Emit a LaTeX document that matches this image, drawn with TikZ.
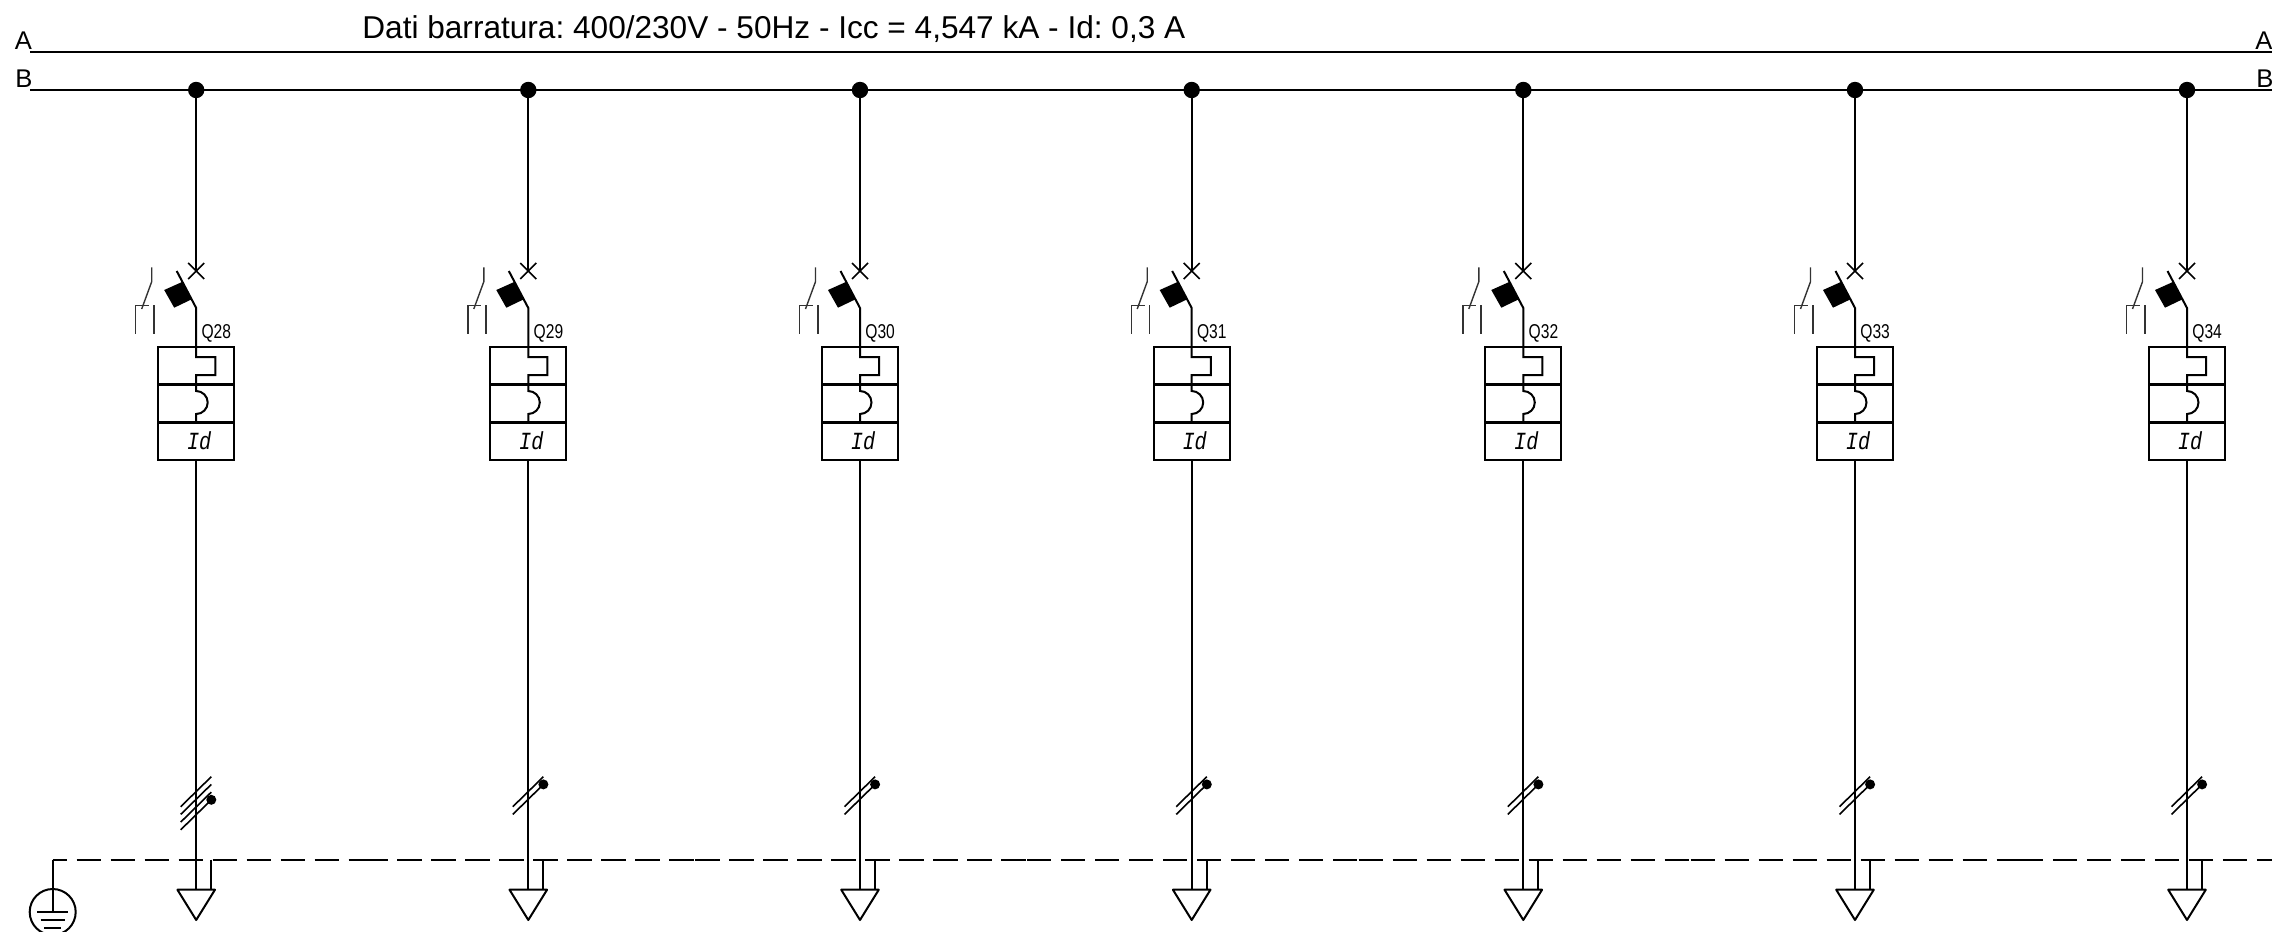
\documentclass[tikz,border=0pt]{standalone}
\usepackage{fontspec}
\setmainfont{Liberation Sans}
\setmonofont{Liberation Mono}
\usetikzlibrary{calc}
\frenchspacing
\tikzset{
  wire/.style={line width=1pt,draw=black},
  thinwire/.style={line width=0.8pt,draw=black},
  auxwire/.style={line width=0.7pt,draw=black!80},
  divider/.style={line width=1.5pt,draw=black},
  dashwire/.style={line width=1pt,draw=black,dash pattern=on 12.15pt off 4.85pt},
  junction/.style={circle,fill=black,draw=none,minimum size=8.2pt,inner sep=0pt,outer sep=0pt},
  tickdot/.style={circle,fill=black,draw=none,minimum size=5pt,inner sep=0pt,outer sep=0pt},
  cell/.style={rectangle,draw=black,line width=1pt,minimum width=37.85pt,inner sep=0pt,outer sep=0pt},
  buslabel/.style={anchor=base west,inner sep=0pt,font=\fontsize{12.8pt}{14pt}\selectfont},
  qlabel/.style={anchor=base west,inner sep=0pt,font=\fontsize{10pt}{12pt}\selectfont},
}
\begin{document}
\begin{tikzpicture}[x=0.5pt,y=-0.5pt]
\path[use as bounding box,clip] (0,0) rectangle (2272,932);
\fill[white] (0,0) rectangle (2272,932);
% title and bus bars
\node[anchor=base west,inner sep=0pt,font=\fontsize{15.8pt}{18pt}\selectfont] (title) at (362,38.3) {Dati barratura: 400/230V - 50Hz - Icc = 4,547 kA - Id: 0,3 A};
\node[buslabel] (labAl) at (14.5,49) {A};
\node[buslabel] (labBl) at (15,87.3) {B};
\node[buslabel] (labAr) at (2255,49) {A};
\node[buslabel] (labBr) at (2256,87.3) {B};
\coordinate (Al) at (30,52.3);
\coordinate (Ar) at (2272,52.3);
\coordinate (Bl) at (30,90);
\coordinate (Br) at (2272,90);
\draw[wire] (Al) -- (Ar);
\draw[wire] (Bl) -- (Br);
% earth symbol
\node[circle,draw=black,line width=1pt,minimum size=23pt,inner sep=0pt,outer sep=0pt] (gnd) at (52.7,912) {};
\coordinate (corner) at (52.7,859.7);
\draw[wire] (gnd.center) -- (corner);
\draw[thinwire] (37.3,912) -- (68.3,912);
\draw[thinwire] (40.7,920) -- (65,920);
\draw[thinwire] (44.3,927.7) -- (61,927.7);
% dashed protective conductor
\coordinate (s0) at (363.3,859.7);
\coordinate (s1) at (695.3,859.7);
\coordinate (s2) at (1027,859.7);
\coordinate (s3) at (1358.7,859.7);
\coordinate (s4) at (1690.7,859.7);
\coordinate (s5) at (2018.8,859.7);
\coordinate (s6) at (2272,859.7);
\draw[dashwire,dash phase=5pt] (corner) -- (s0);
\draw[dashwire] (s0) -- (s1);
\draw[dashwire] (s1) -- (s2);
\draw[dashwire] (s2) -- (s3);
\draw[dashwire] (s3) -- (s4);
\draw[dashwire] (s4) -- (s5);
\draw[dashwire] (s5) -- (s6);
% feeders
\foreach \i/\x/\q/\n in {0/196.2/28/4,1/528.3/29/2,2/860/30/2,3/1191.7/31/2,4/1523.3/32/2,5/1855/33/2,6/2187/34/2}{
\begin{scope}[xshift=\x*0.5pt]
  \node[junction] (j\i) at (0,90) {};
  \coordinate (cross\i) at (0,271);
  \coordinate (pivot\i) at (0,308);
  \coordinate (bladeend\i) at (-19.5,271);
  \node[cell,minimum height=18.8pt] (mag\i) at (0,365.5) {};
  \node[cell,minimum height=19pt] (th\i) at (0,403.3) {};
  \node[cell,minimum height=18.85pt,font=\ttfamily\itshape\fontsize{11pt}{11pt}\selectfont] (rcd\i) at (0,441.2) {\hspace*{3pt}\scalebox{0.92}[1.12]{Id}};
  \draw[divider] (mag\i.south west) -- (mag\i.south east);
  \draw[divider] (th\i.south west) -- (th\i.south east);
  \node[qlabel] (q\i) at (5,338) {\scalebox{0.78}[1]{Q\q}};
  \draw[wire] (j\i) -- (cross\i);
  \draw[thinwire] (-8,263) -- (8,279);
  \draw[thinwire] (-8,279) -- (8,263);
  \draw[wire] (bladeend\i) -- (pivot\i) -- (mag\i.north);
  \fill[black] (-32,290) -- (-13.5,281.7) -- (-4.5,299.3) -- (-22,307.7) -- cycle;
  \draw[auxwire] (-44.5,267.3) -- (-44.5,281.7) -- (-54.5,309);
  \draw[auxwire] (-60.5,333.7) -- (-60.5,305.3) -- (-47,305.3);
  \draw[auxwire] (-42.2,305.3) -- (-42.2,333.7);
  \draw[wire] (mag\i.north) -- (0,357) -- (19.1,357) -- (19.1,375) -- (0,375) -- (th\i.north) -- (0,391)
     arc[start angle=90,end angle=-90,radius=5.75pt] -- (th\i.south);
  \coordinate (load\i) at (0,889.7);
  \draw[wire] (rcd\i.south) -- (load\i);
  \draw[wire,line join=round] (-18.8,889.7) -- (18.8,889.7) -- (0,920) -- cycle;
  \coordinate (pe\i) at (15.1,859.7);
  \coordinate (pef\i) at (15.1,889.7);
  \draw[wire] (pe\i) -- (pef\i);
  \foreach \k in {1,...,\n}{
    \draw[thinwire] (-15.5,{806.7+7.7*(\k-1)}) -- (15.1,{776.7+7.7*(\k-1)});
  }
  \node[tickdot] (dot\i) at (15.1,{776.7+7.7*(\n-1)}) {};
\end{scope}
}
\end{tikzpicture}
\end{document}
